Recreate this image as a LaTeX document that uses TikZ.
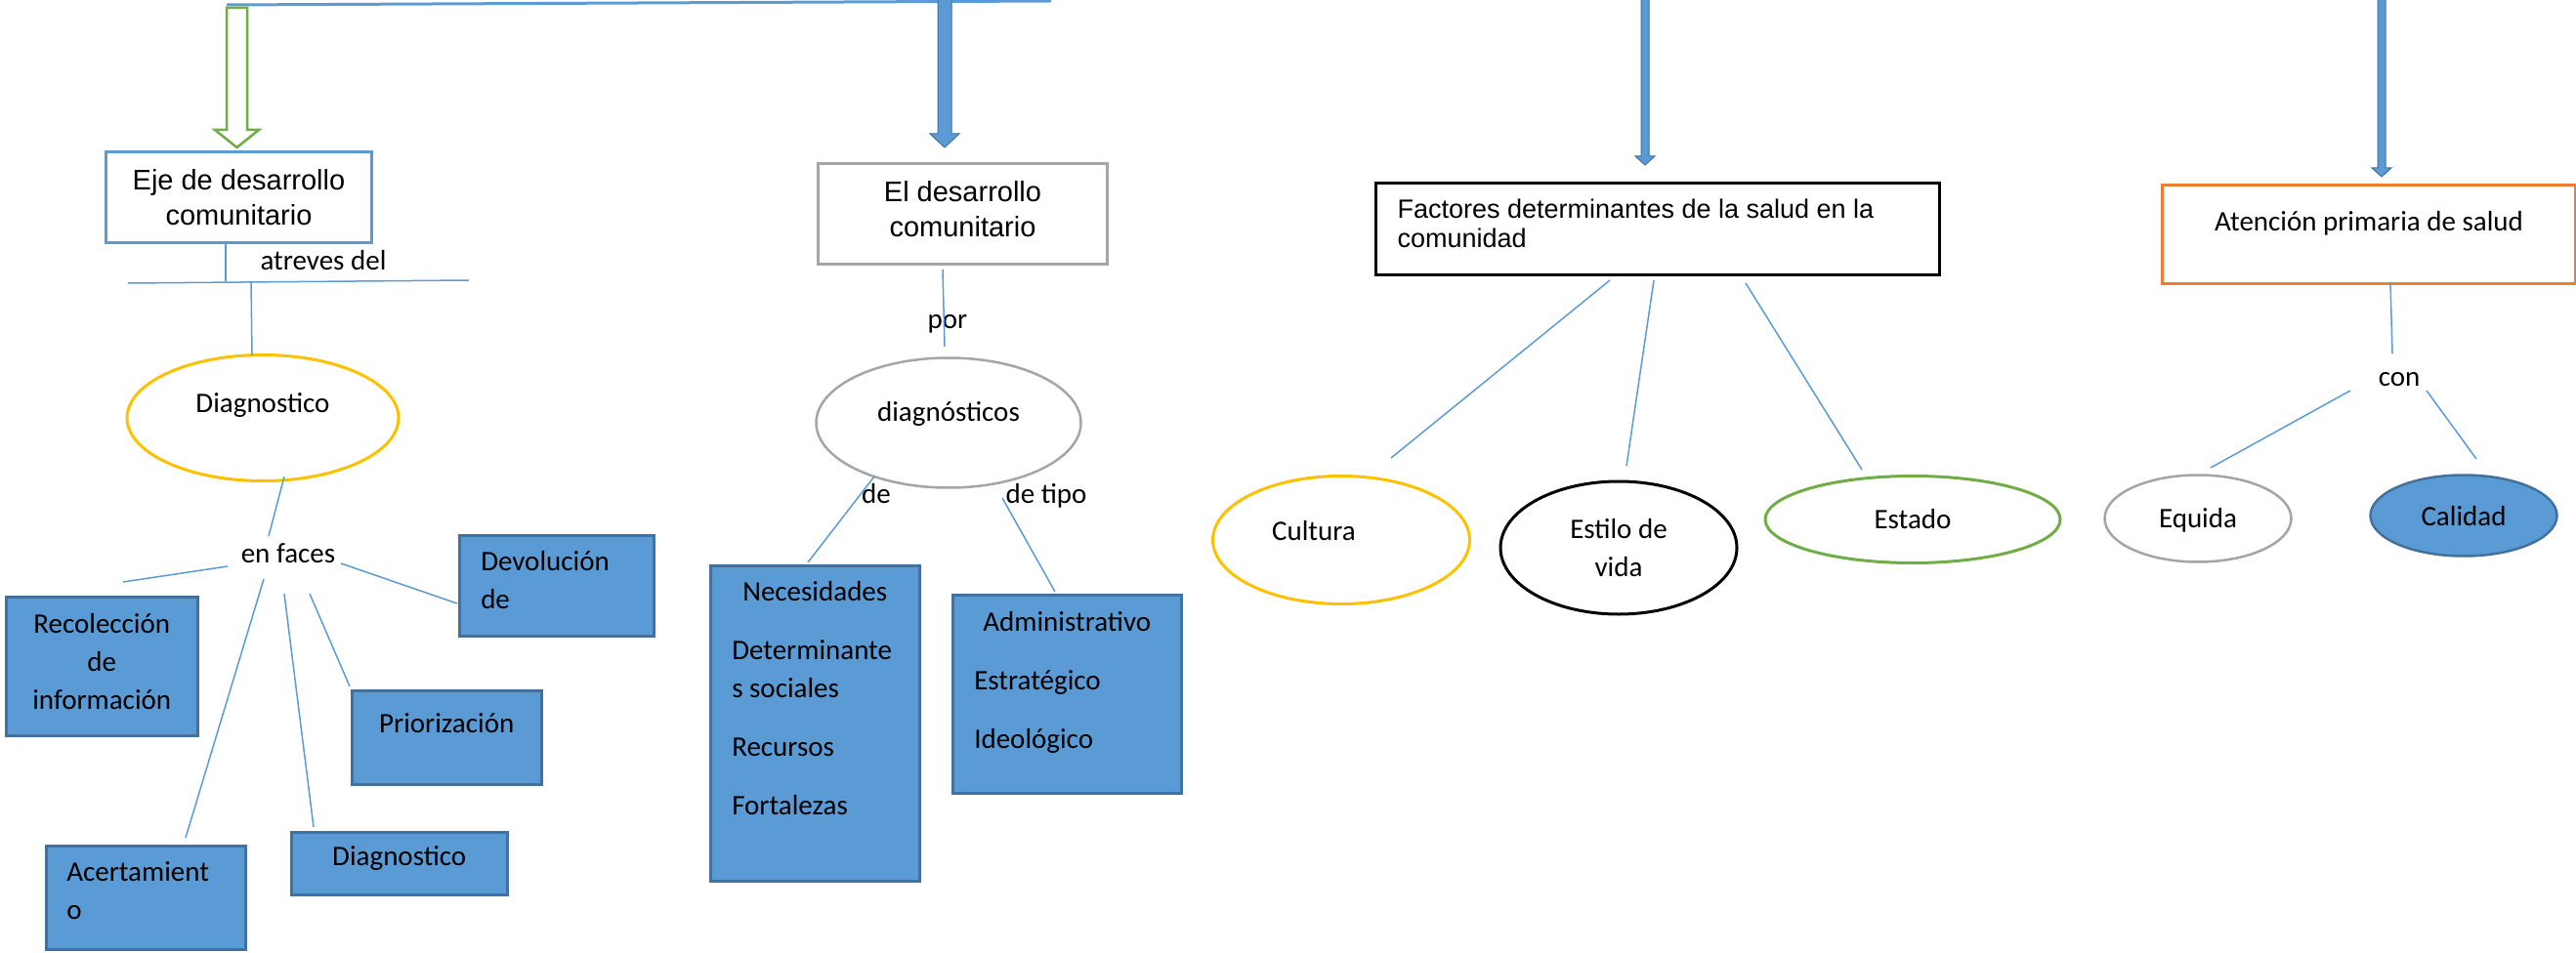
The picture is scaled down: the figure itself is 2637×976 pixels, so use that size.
\documentclass[tikz,border=0pt]{standalone}
\usepackage{fontspec}
\setmainfont{Carlito}
\newfontfamily\arialf{Liberation Sans}
\usetikzlibrary{shapes.geometric}
\definecolor{accblue}{HTML}{5B9BD5}
\definecolor{darkblue}{HTML}{41719C}
\definecolor{accgreen}{HTML}{70AD47}
\definecolor{accgold}{HTML}{FFC000}
\definecolor{accgray}{HTML}{A5A5A5}
\definecolor{accorange}{HTML}{ED7D31}
\newcommand\cf{\fontsize{29}{39}\selectfont}
\newcommand\inbox[4]{\begin{minipage}[c][#2][t]{#1}\cf\parskip=0pt\vspace*{#3}#4\end{minipage}}
\begin{document}
\begin{tikzpicture}[x=1pt,y=-1pt,
  framebox/.style={rectangle, line width=3pt, inner sep=0pt, anchor=north west},
  bluebox/.style={rectangle, fill=accblue, draw=darkblue, line width=2.5pt, inner sep=0pt, anchor=north west},
  ell/.style={ellipse, inner sep=0pt, line width=3pt, font=\cf},
  lbl/.style={inner sep=0pt, font=\cf, text height=20pt, text depth=0pt},
  conn/.style={draw=accblue, line width=1.5pt},
  fatarrow/.style={fill=accblue, draw=darkblue, line width=1pt}]
\path[use as bounding box] (0,0) rectangle (2637,976);

% top line and arrows
\coordinate (topL) at (232,5);
\coordinate (topR) at (1076,1);
\draw[accblue, line width=3pt] (topL) -- (topR);
\draw[accgreen, line width=2.5pt, fill=white] (232,8) -- (253,8) -- (253,133) -- (265,133) -- (242.5,151) -- (220,133) -- (232,133) -- cycle;
\draw[fatarrow] (960,-3) -- (974,-3) -- (974,137) -- (982,137) -- (967,151) -- (952,137) -- (960,137) -- cycle;
\draw[fatarrow] (1680,-3) -- (1688,-3) -- (1688,160) -- (1694,160) -- (1684,169) -- (1674,160) -- (1680,160) -- cycle;
\draw[fatarrow] (2434,-3) -- (2442,-3) -- (2442,172) -- (2448,172) -- (2438,181) -- (2428,172) -- (2434,172) -- cycle;

% main boxes
\node[framebox, draw=accblue, minimum width=272pt, minimum height=93pt, align=center,
  font=\arialf\fontsize{29}{36}\selectfont] (eje) at (107,154) {Eje de desarrollo\\comunitario};
\node[framebox, draw=accgray] (desa) at (836,166) {\begin{minipage}[c][103pt][t]{296pt}\arialf\fontsize{29}{36}\selectfont\parskip=0pt\centering
  \vspace*{14pt}\strut El desarrollo\\comunitario\end{minipage}};
\node[framebox, draw=black] (fact) at (1407,186) {\begin{minipage}[c][94pt][t]{577pt}\arialf\fontsize{27}{30}\selectfont\parskip=0pt\raggedright\leftskip=22pt
  \vspace*{15pt}\strut Factores determinantes de la salud en la\\comunidad\end{minipage}};
\node[framebox, draw=accorange, minimum width=423pt, minimum height=101pt, font=\cf,
  text height=22pt, text depth=29pt] (aten) at (2212,188) {Atención primaria de salud};

% labels
\node[lbl] (atr) at (331,267) {atreves del};
\node[lbl] (enf) at (295,566) {en faces};
\node[lbl] (por) at (970,326) {por};
\node[lbl] (de) at (897,505) {de};
\node[lbl] (det) at (1071,505) {de tipo};
\node[lbl] (con) at (2456,385) {con};

% ellipses
\node[ell, draw=accgold, minimum width=278pt, minimum height=129pt, text height=22pt, text depth=33pt] (dg1) at (269,428) {Diagnostico};
\node[ell, draw=accgray, line width=2.5pt, minimum width=271pt, minimum height=133pt, text height=22pt, text depth=25pt] (dgs) at (971,433) {diagnósticos};
\node[ell, draw=accgold, minimum width=263pt, minimum height=131pt, text height=22pt, text depth=22pt] (cult) at (1373,553) {Cultura\hspace*{56pt}};
\node[ell, draw=black, minimum width=242pt, minimum height=136pt, align=center] (esti) at (1657,561) {Estilo de\\vida};
\node[ell, draw=accgreen, minimum width=302pt, minimum height=89pt, text height=22pt, text depth=4pt] (esta) at (1958,532) {Estado};
\node[ell, draw=accgray, line width=2.5pt, minimum width=191pt, minimum height=89pt, text height=22pt, text depth=4pt] (equi) at (2250,531) {Equida};
\node[ell, fill=accblue, draw=darkblue, line width=2.5pt, minimum width=191pt, minimum height=83pt, text height=22pt, text depth=2pt] (cali) at (2522,528) {Calidad};

% blue boxes
\node[bluebox] (devo) at (469,547) {\inbox{199pt}{103pt}{9pt}{\raggedright\leftskip=22pt\strut Devolución\\de}};
\node[bluebox] (reco) at (5,610) {\inbox{196pt}{142pt}{10pt}{\centering\strut Recolección\\de\\información}};
\node[bluebox] (prio) at (359,706) {\inbox{194pt}{96pt}{16pt}{\centering\strut Priorización}};
\node[bluebox] (acer) at (46,865) {\inbox{204pt}{106pt}{9pt}{\raggedright\leftskip=21pt\strut Acertamient\\o}};
\node[bluebox] (diagb) at (297,851) {\inbox{221pt}{64pt}{7pt}{\centering\strut Diagnostico}};
\node[bluebox] (nece) at (726,578) {\inbox{214pt}{323pt}{9pt}{{\centering\strut Necesidades\par}\raggedright\leftskip=22pt\parskip=21pt
  \strut Determinante\\s sociales\par Recursos\par Fortalezas}};
\node[bluebox] (admi) at (974,608) {\inbox{234pt}{203pt}{9.5pt}{{\centering\strut Administrativo\par}\raggedright\leftskip=22pt\parskip=21pt
  \strut Estratégico\par Ideológico}};

% connector end points
\coordinate (a1) at (231,247); \coordinate (a2) at (231,288);
\coordinate (h1) at (131,290); \coordinate (h2) at (480,287);
\coordinate (v1) at (257,288); \coordinate (v2) at (258,364);
\coordinate (b1) at (291,488); \coordinate (b2) at (275,549);
\coordinate (r1) at (233,580); \coordinate (r2) at (126,596);
\coordinate (d1) at (349,577); \coordinate (d2) at (468,618);
\coordinate (c1) at (270,593); \coordinate (c2) at (190,858);
\coordinate (g1) at (291,608); \coordinate (g2) at (321,847);
\coordinate (p1) at (317,608); \coordinate (p2) at (358,703);
\coordinate (e1) at (965,276); \coordinate (e2) at (967,355);
\coordinate (n1) at (895,488); \coordinate (n2) at (827,576);
\coordinate (t1) at (1026,510); \coordinate (t2) at (1080,606);
\coordinate (f1) at (1648,287); \coordinate (f2) at (1424,469);
\coordinate (f3) at (1693,287); \coordinate (f4) at (1665,477);
\coordinate (f5) at (1787,290); \coordinate (f6) at (1906,481);
\coordinate (q1) at (2447,290); \coordinate (q2) at (2449,362);
\coordinate (q3) at (2406,400); \coordinate (q4) at (2263,479);
\coordinate (q5) at (2484,400); \coordinate (q6) at (2535,470);

\draw[conn] (a1) -- (a2);
\draw[conn] (h1) -- (h2);
\draw[conn] (v1) -- (v2);
\draw[conn] (b1) -- (b2);
\draw[conn] (r1) -- (r2);
\draw[conn] (d1) -- (d2);
\draw[conn] (c1) -- (c2);
\draw[conn] (g1) -- (g2);
\draw[conn] (p1) -- (p2);
\draw[conn] (e1) -- (e2);
\draw[conn] (n1) -- (n2);
\draw[conn] (t1) -- (t2);
\draw[conn] (f1) -- (f2);
\draw[conn] (f3) -- (f4);
\draw[conn] (f5) -- (f6);
\draw[conn] (q1) -- (q2);
\draw[conn] (q3) -- (q4);
\draw[conn] (q5) -- (q6);
\end{tikzpicture}
\end{document}
